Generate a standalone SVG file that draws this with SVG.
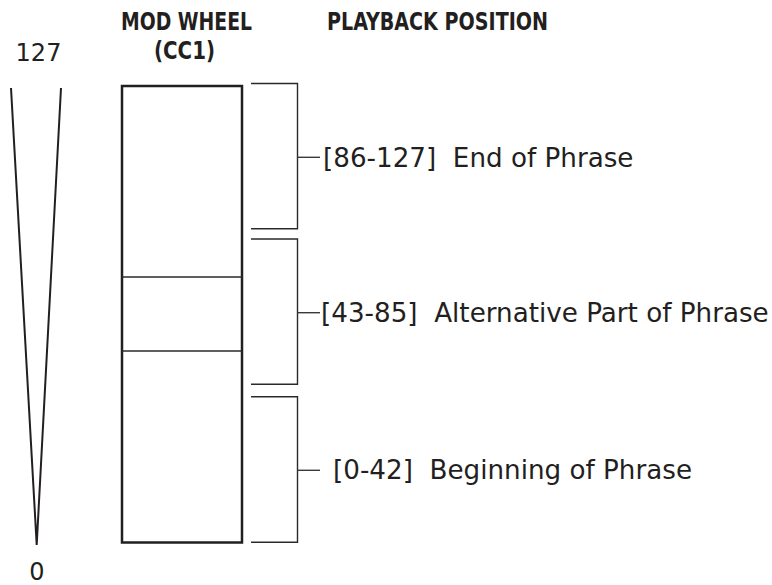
<svg xmlns="http://www.w3.org/2000/svg" width="772" height="585" viewBox="0 0 772 585">
<style>
.hd{font-family:"DejaVu Sans Condensed","DejaVu Sans","Liberation Sans",sans-serif;font-weight:bold;font-size:25px;fill:#231f20}
.lb{font-family:"DejaVu Sans","Liberation Sans",sans-serif;font-size:26.2px;fill:#231f20}
.num{font-family:"DejaVu Sans","Liberation Sans",sans-serif;font-size:24px;fill:#231f20}
.br{fill:none;stroke:#2a2a2a;stroke-width:1.4}
.tick{stroke:#3a3a3a;stroke-width:1.4}
</style>
<rect width="772" height="585" fill="#ffffff"/>
<g id="headings">
<text class="hd" x="186.5" y="30" text-anchor="middle" textLength="131" lengthAdjust="spacingAndGlyphs">MOD WHEEL</text>
<text class="hd" x="184.5" y="59" text-anchor="middle" textLength="61" lengthAdjust="spacingAndGlyphs">(CC1)</text>
<text class="hd" x="437.5" y="29.5" text-anchor="middle" textLength="221" lengthAdjust="spacingAndGlyphs">PLAYBACK POSITION</text>
</g>
<g id="scale">
<text class="num" x="38.5" y="61" text-anchor="middle">127</text>
<path d="M11,88 L36.7,545 L61,88" fill="none" stroke="#231f20" stroke-width="2" stroke-linejoin="miter"/>
<text class="num" x="37" y="580" text-anchor="middle">0</text>
</g>
<g id="modwheel">
<rect x="122" y="86" width="120" height="456.5" fill="none" stroke="#231f20" stroke-width="2.5"/>
<line x1="122" y1="277" x2="242" y2="277" stroke="#2a2a2a" stroke-width="1.3"/>
<line x1="122" y1="351" x2="242" y2="351" stroke="#2a2a2a" stroke-width="1.3"/>
</g>
<g id="connectors">
<path class="br" d="M251,83.5 H297.5 V228.7 H251"/>
<line class="tick" x1="297.5" y1="157.3" x2="320" y2="157.3"/>
<path class="br" d="M251,239 H297.5 V384.3 H251"/>
<line class="tick" x1="297.5" y1="312.7" x2="320" y2="312.7"/>
<path class="br" d="M251,396.7 H297.5 V542.3 H251"/>
<line class="tick" x1="297.5" y1="470.3" x2="320" y2="470.3"/>
</g>
<g id="label-end">
<text class="lb" x="323" y="167" xml:space="preserve">[86-127]  End of Phrase</text>
</g>
<g id="label-alt">
<text class="lb" x="321" y="322" xml:space="preserve">[43-85]  Alternative Part of Phrase</text>
</g>
<g id="label-begin">
<text class="lb" x="333" y="479" xml:space="preserve">[0-42]  Beginning of Phrase</text>
</g>
</svg>
